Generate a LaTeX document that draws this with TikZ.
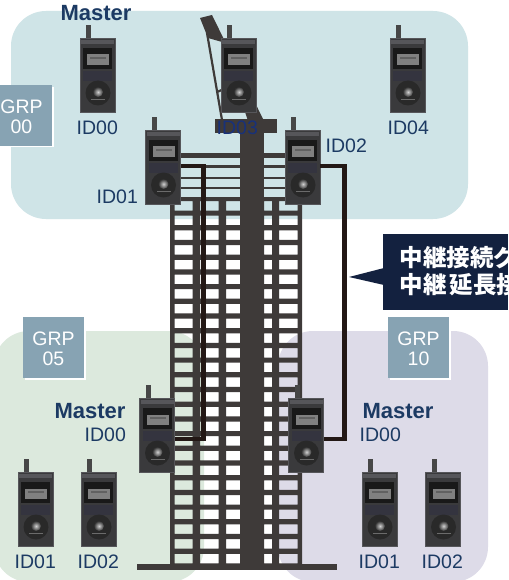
\documentclass[tikz,border=0pt]{standalone}
\usepackage{fontspec}
\setmainfont{Liberation Sans}
\newfontfamily\cjk{Noto Sans CJK JP}
\definecolor{ptop}{HTML}{CFE4E7}
\definecolor{pgreen}{HTML}{DCE9DD}
\definecolor{ppurple}{HTML}{DDDBE8}
\definecolor{towerc}{HTML}{3E3A39}
\definecolor{cablec}{HTML}{231815}
\definecolor{navy}{HTML}{1C3A63}
\definecolor{calloutc}{HTML}{13213F}
\definecolor{grpc}{HTML}{87A3B3}
\definecolor{phonec}{HTML}{3A3A3C}
\definecolor{phonee}{HTML}{56565A}
\definecolor{keypadc}{HTML}{34343F}
\tikzset{
  panel/.style={rounded corners=35pt},
  phonebody/.style={draw=phonee,line width=.8pt,fill=phonec,minimum width=35pt,minimum height=74pt,inner sep=0pt},
  idlabel/.style={anchor=west,inner sep=0pt,text=navy,font=\fontsize{19.5}{20}\selectfont},
  masterlabel/.style={inner sep=0pt,text=navy,font=\fontsize{22}{24}\selectfont\bfseries},
  grpbox/.style={fill=grpc,text=white,minimum width=61pt,minimum height=61pt,inner sep=0pt,align=center,font=\fontsize{19.5}{20}\selectfont},
  cable/.style={draw=cablec,line width=4.4pt,line join=miter},
  calltext/.style={anchor=west,inner sep=0pt,text=white,font=\cjk\fontsize{23.5}{26}\selectfont\bfseries},
}
% walkie-talkie: #1 node name, #2 left edge, #3 top edge of body
\newcommand\walkie[3]{%
  \fill[black!72] (#2+6,#3-13) rectangle (#2+11,#3+1);
  \node[phonebody] (#1) at (#2+17.5,#3+37) {};
  \begin{scope}[shift={(#2,#3)}]
    \fill[phonee] (1,2) rectangle (34,6);
    \fill[black!90] (3,10) rectangle (32,31);
    \fill[black!50] (7,16.5) rectangle (29,27);
    \fill[black!62] (10,19) rectangle (26,21);
    \fill[keypadc] (3,33) rectangle (32,43);
    \fill[black!84] (18,55) circle (12.5);
    \shade[inner color=black!18,outer color=black!80] (18,54) circle (5);
    \fill[black!58] (11,61) rectangle (25,62);
  \end{scope}
}
\newcommand\grptext[2]{\rule{0pt}{17pt}#1\\#2}
\begin{document}
\begin{tikzpicture}[x=1pt,y=-1pt]
\useasboundingbox (0,0) rectangle (508,580);
\fill[white] (0,0) rectangle (508,580);
\begin{scope}
\clip (0,0) rectangle (508,580);
% group panels
\fill[ptop,panel] (11,11) rectangle (468,219);
\fill[pgreen,panel] (-6,331) rectangle (204,582);
\fill[ppurple,panel] (278,331) rectangle (488,582);
\end{scope}
% tower with see-through windows
\fill[towerc,even odd rule] (170,197) rectangle (302,565)
  \foreach \i in {0,...,24} {
    (174.5,201+14.7*\i) rectangle (192.5,210.5+14.7*\i)
    (200,201+14.7*\i) rectangle (218.5,210.5+14.7*\i)
    (226,201+14.7*\i) rectangle (240,210.5+14.7*\i)
    (264,201+14.7*\i) rectangle (272,210.5+14.7*\i)
    (279,201+14.7*\i) rectangle (297.5,210.5+14.7*\i)
  };
\fill[towerc] (137,564) rectangle (337,569.5);
\fill[towerc] (240,120) rectangle (264,200);
\foreach \a/\b in {153/158,165/168,177/179,187/189,197/201}{
  \fill[towerc] (181,\a) rectangle (240,\b);
  \fill[towerc] (264,\a) rectangle (286,\b);
}
% mast
\fill[towerc] (200,18) -- (212,15) -- (264,121) -- (248,121) -- (222,42) -- (208,38) -- cycle;
\draw[towerc,line width=2.2pt] (207,33) -- (222,120);
\draw[towerc,line width=2.2pt] (217,92) -- (224,89);
\fill[towerc] (215,119) rectangle (277,133);
% phones
\walkie{topa}{80}{38}
\walkie{topd}{221}{38}
\walkie{tope}{390}{38}
\walkie{topb}{145.5}{130}
\walkie{topc}{285}{130}
\draw[cable] ([yshift=1pt]topb.east) -- (203.3,166) -- (203.3,439) -- (174,439);
\draw[cable] ([yshift=1pt]topc.east) -- (344.5,166) -- (344.5,439) -- (323,439);
\walkie{gra}{139.5}{398}
\walkie{grb}{18}{472}
\walkie{grc}{81}{472}
\walkie{pua}{288.5}{398}
\walkie{pub}{362}{472}
\walkie{puc}{425.5}{472}
% labels
\node[masterlabel] (m0) at (96,13) {Master};
\node[idlabel] (l00) at (76.5,128) {ID00};
\node[idlabel,text=navy!85!blue] (l03) at (216.5,128) {ID03};
\node[idlabel] (l04) at (387.5,128) {ID04};
\node[idlabel] (l01) at (96.5,197) {ID01};
\node[idlabel] (l02) at (325.5,146) {ID02};
\node[masterlabel] (m5) at (90,411) {Master};
\node[idlabel] (l50) at (84.5,435) {ID00};
\node[idlabel] (l51) at (14.5,562) {ID01};
\node[idlabel] (l52) at (77.5,562) {ID02};
\node[masterlabel] (m10) at (398,411) {Master};
\node[idlabel] (l100) at (359.5,435) {ID00};
\node[idlabel] (l101) at (358.5,562) {ID01};
\node[idlabel] (l102) at (421.5,562) {ID02};
% group tags
\fill[white] (-9,87) rectangle (53.5,147.5);
\node[grpbox] (g0) at (21.5,115.5) {\grptext{GRP}{00}};
\fill[white] (25,319) rectangle (86,380);
\node[grpbox] (g5) at (53.5,347.5) {\grptext{GRP}{05}};
\fill[white] (390,319) rectangle (451,380);
\node[grpbox] (g10) at (418.5,347.5) {\grptext{GRP}{10}};
% callout
\fill[calloutc] (383,234) rectangle (508,310);
\fill[calloutc] (384,268) -- (349,277) -- (384,285) -- cycle;
\begin{scope}
\clip (383,234) rectangle (508,310);
\node[calltext] (c1) at (399.5,257) {中継接続グ};
\node[calltext] (c2) at (399.5,285) {中継\hspace{3pt}延長接};
\end{scope}
\end{tikzpicture}
\end{document}
